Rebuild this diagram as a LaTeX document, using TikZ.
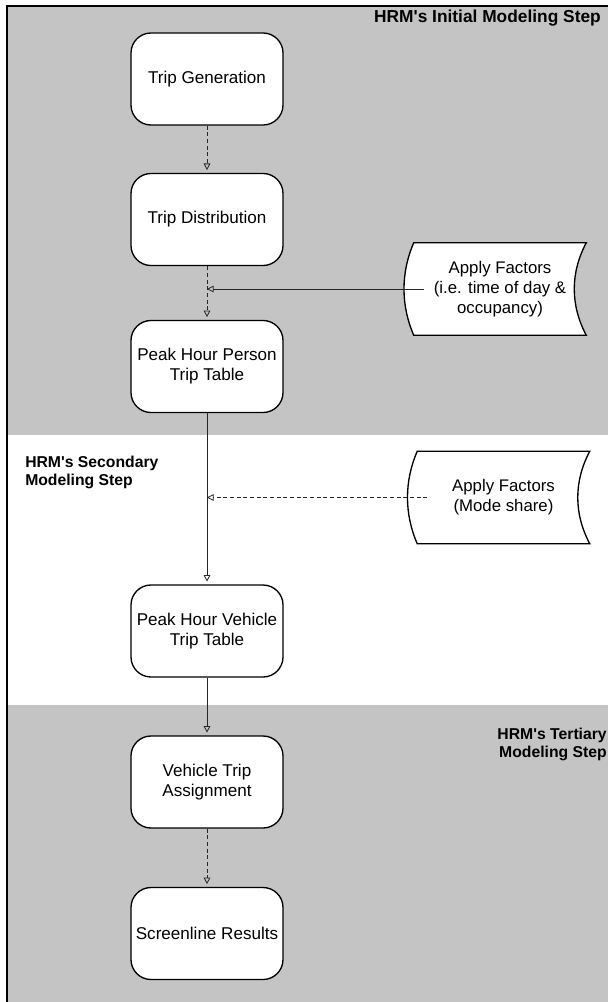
\documentclass[tikz,border=0pt]{standalone}
\usepackage{fontspec}
\setmainfont{Liberation Sans}
\usetikzlibrary{arrows.meta,calc,backgrounds}
\definecolor{bandgray}{RGB}{196,196,196}
\begin{document}
\begin{tikzpicture}[x=0.75pt,y=-0.75pt,
  stepbox/.style={draw=black,fill=white,line width=1pt,rounded corners=15pt,
    minimum width=114pt,minimum height=69pt,align=center,inner sep=2pt,
    font=\fontsize{12.8}{15}\selectfont},
  factbox/.style={minimum width=129pt,minimum height=69pt,align=center,inner sep=0pt,
    font=\fontsize{12.6}{15}\selectfont},
  factshape/.style={draw=black,fill=white,line width=1pt},
  hrmlabel/.style={inner sep=0pt,font=\fontsize{11.8}{13.5}\selectfont\bfseries},
  conn/.style={draw=black!85,line width=0.6pt,shorten >=2pt,
    -{Triangle[open,length=5pt,width=5pt]}},
]
\useasboundingbox (0,0) rectangle (608,1002);

% nodes
\node[stepbox] (gen)  at (207,79)    {Trip Generation};
\node[stepbox] (dist) at (207,219.5) {Trip Distribution};
\node[stepbox] (pp)   at (207,366.5) {Peak Hour Person\\Trip Table};
\node[stepbox] (pv)   at (207,631)   {Peak Hour Vehicle\\Trip Table};
\node[stepbox] (vta)  at (207,782)   {Vehicle Trip\\Assignment};
\node[stepbox] (scr)  at (207,933.5) {Screenline Results};

\node[factbox] (f1) at (500,289)   {Apply Factors\\(i.e. time of day \&\\occupancy)};
\node[factbox] (f2) at (503.5,497.5) {Apply Factors\\(Mode share)};

\node[hrmlabel,anchor=east,font=\fontsize{13}{15}\selectfont\bfseries] (l1) at (601,18) {HRM\textquotesingle s Initial Modeling Step};
\node[hrmlabel,anchor=west,align=left] (l2) at (25,472.5) {HRM\textquotesingle s Secondary\\Modeling Step};
\node[hrmlabel,anchor=east,align=right] (l3) at (607,744) {HRM\textquotesingle s Tertiary\\Modeling Step};

% background bands and document shapes
\begin{pgfonlayer}{background}
  \fill[white] (0,0) rectangle (608,1002);
  \fill[bandgray] (7,6) rectangle (608,435);
  \fill[white] (7,435) rectangle (608,705);
  \fill[bandgray] (7,705) rectangle (608,1002);
  \draw[line width=1.3pt] (7,1002) -- (7,6) -- (608,6);
  \foreach \f in {f1,f2} {
    \draw[factshape] (\f.north west) -- (\f.north east)
      .. controls +(-16,30) and +(-16,-30) .. (\f.south east)
      -- (\f.south west)
      .. controls +(-13,-30) and +(-13,30) .. (\f.north west) -- cycle;
  }
\end{pgfonlayer}

% connectors
\coordinate (j1) at (dist.south |- f1.west);
\coordinate (j2) at (pp.south |- f2.west);
\draw[conn,densely dashed] (gen.south) -- (dist.north);
\draw[conn,densely dashed] (dist.south) -- (pp.north);
\draw[conn,shorten <=-7.5pt,shorten >=0pt] (f1.west) -- (j1);
\draw[conn] (pp.south) -- (pv.north);
\draw[conn,densely dashed,shorten <=-7.5pt,shorten >=0pt] (f2.west) -- (j2);
\draw[conn] (pv.south) -- (vta.north);
\draw[conn,densely dashed] (vta.south) -- (scr.north);
\end{tikzpicture}
\end{document}
